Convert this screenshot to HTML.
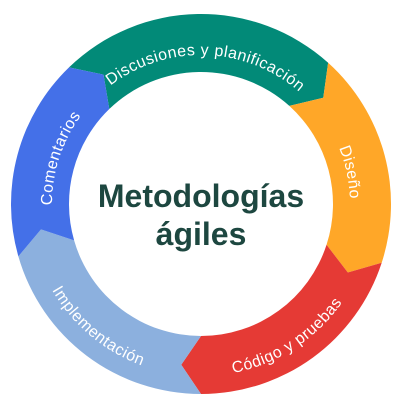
<!DOCTYPE html>
<html><head><meta charset="utf-8"><style>
html,body{margin:0;padding:0;background:#fff;}
svg{display:block;}
text{font-family:"Liberation Sans",sans-serif;}
</style></head><body>
<svg id="chart" width="413" height="412" viewBox="0 0 413 412" xmlns="http://www.w3.org/2000/svg">
<g id="segs"></g>
<text x="201" y="207" text-anchor="middle" font-size="32" font-weight="bold" fill="#1d4740">Metodologías</text>
<text x="201" y="245" text-anchor="middle" font-size="32" font-weight="bold" fill="#1d4740">ágiles</text>
</svg>
<script>
const labels = ["Discusiones y planificación","Diseño","Código y pruebas","Implementación","Comentarios"];
const boundaries = [316,42,108,180,254];
const colors = ["#028a78","#ffa728","#e53a35","#8cb0de","#4470e8"];
const cx=201, cy=204, R=190, r=132, rm=162, tipA=7;
const ns="http://www.w3.org/2000/svg";
function pt(a,rad){const t=a*Math.PI/180;return [cx+rad*Math.sin(t),cy-rad*Math.cos(t)];}
const g=document.getElementById('segs');
const defs=document.createElementNS(ns,'defs');
document.getElementById('chart').insertBefore(defs,g);
for(let i=0;i<labels.length;i++){
  let a0=boundaries[i], a1=boundaries[(i+1)%labels.length];
  if(a1<a0)a1+=360;
  const o0=pt(a0,R),o1=pt(a1,R),tip=pt(a1+tipA,rm),i1=pt(a1,r),i0=pt(a0,r),notch=pt(a0+tipA,rm);
  const d=`M${o0}A${R},${R} 0 0 1 ${o1}L${tip}L${i1}A${r},${r} 0 0 0 ${i0}L${notch}Z`;
  const p=document.createElementNS(ns,'path');
  p.setAttribute('d',d);p.setAttribute('fill',colors[i]);
  
  
  g.appendChild(p);
  const mid=(a0+a1)/2+3;
  const norm=((mid%360)+360)%360;
  const bottom = norm>120 && norm<250;
  const tr = bottom?172:149;
  let s,e,sw;
  if(bottom){s=pt(mid+80,tr);e=pt(mid-80,tr);sw=0;}else{s=pt(mid-80,tr);e=pt(mid+80,tr);sw=1;}
  const ap=document.createElementNS(ns,'path');
  ap.setAttribute('id','tp'+i);
  ap.setAttribute('d',`M${s}A${tr},${tr} 0 0 ${sw} ${e}`);
  defs.appendChild(ap);
  const t=document.createElementNS(ns,'text');
  
  
  t.setAttribute('fill','#fff');t.setAttribute('font-size','16');t.setAttribute('letter-spacing','0.5');
  const tp=document.createElementNS(ns,'textPath');
  tp.setAttribute('href','#tp'+i);tp.setAttribute('startOffset','50%');tp.setAttribute('text-anchor','middle');
  tp.textContent=labels[i];
  t.appendChild(tp);g.appendChild(t);
}
</script>
</body></html>
